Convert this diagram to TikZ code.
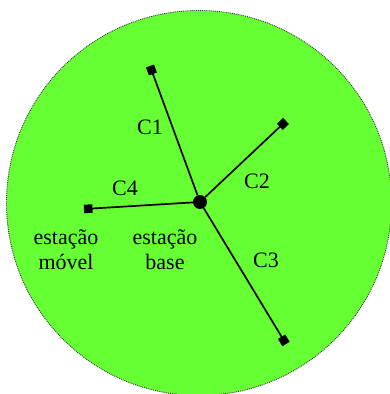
\documentclass[tikz,border=0pt]{standalone}
\usepackage{fontspec}
\setmainfont{Liberation Serif}
\usetikzlibrary{arrows.meta}
\definecolor{cellgreen}{RGB}{102,255,51}
\tikzset{
  lbl/.style={font=\rmfamily\fontsize{22}{25}\selectfont,text=black,inner sep=0pt},
  link/.style={line width=1.7pt,-{Square[length=8.5pt,width=8.5pt]}},
  bsdot/.style={circle,fill=black,inner sep=0pt,minimum size=14pt},
}

\begin{document}
\begin{tikzpicture}[x=1pt,y=-1pt]
  \useasboundingbox (0,0) rectangle (390,394);
  \clip (0,0) rectangle (390,394);
  \filldraw[fill=cellgreen,draw=black!80,line width=0.9pt,densely dotted] (199,203) circle (192.5);
  \node[bsdot] (bs) at (200,202) {};
  \coordinate (m1) at (150,66);
  \coordinate (m2) at (286,121);
  \coordinate (m3) at (286,344);
  \coordinate (m4) at (84,209);
  \draw[link] (bs) -- (m1);
  \draw[link] (bs) -- (m2);
  \draw[link] (bs) -- (m3);
  \draw[link] (bs) -- (m4);
  \node[lbl] (c1) at (150,127) {C1};
  \node[lbl] (c2) at (257,181) {C2};
  \node[lbl] (c3) at (266,260) {C3};
  \node[lbl] (c4) at (125,188) {C4};
  \node[lbl,align=center] (em) at (66,250) {estação\\móvel};
  \node[lbl,align=center] (eb) at (165,250) {estação\\base};
\end{tikzpicture}
\end{document}
